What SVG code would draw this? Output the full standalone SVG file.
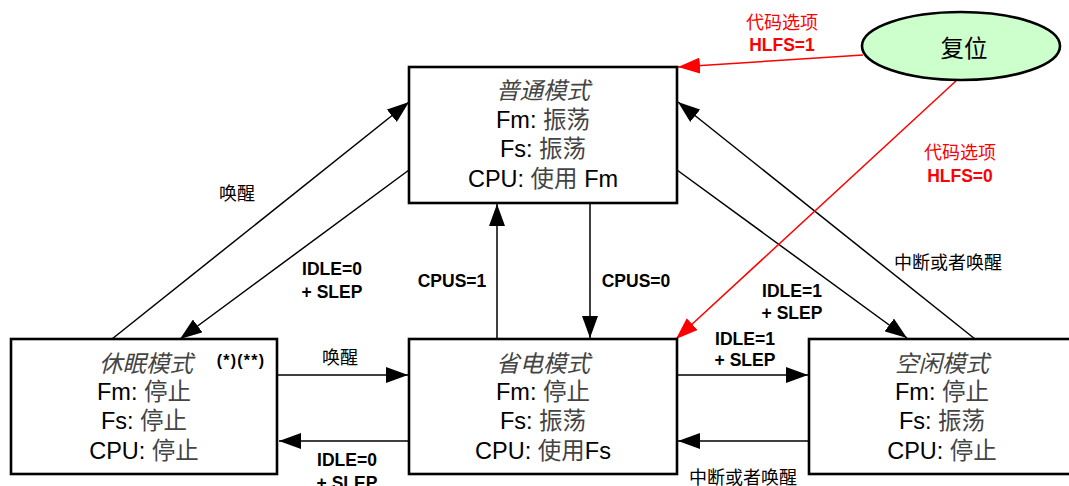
<svg xmlns="http://www.w3.org/2000/svg" width="1069" height="486" viewBox="0 0 1069 486">
<style>
.box{fill:#fff;stroke:#000;stroke-width:2.6}
.t{font-family:"Liberation Sans","Noto Sans CJK SC",sans-serif;font-size:23.5px;text-anchor:middle;fill:#000}
.ti{font-style:italic;fill:#444}
.cj{fill:#444}
.lb{font-family:"Liberation Sans","Noto Sans CJK SC",sans-serif;font-size:17.5px;font-weight:bold;text-anchor:middle;fill:#000}
.lc{font-family:"Liberation Sans","Noto Sans CJK SC",sans-serif;font-size:18px;text-anchor:middle;fill:#000}
.red{fill:#ff0000}
.c{stroke:#000;stroke-width:1.5;fill:none;marker-end:url(#ah)}
.cr{stroke:#ff0000;stroke-width:1.5;fill:none;marker-end:url(#ahr)}
</style>
<defs>
<marker id="ah" viewBox="0 0 22 16" refX="22" refY="8" markerWidth="22" markerHeight="16" orient="auto" markerUnits="userSpaceOnUse"><path d="M0,0 L22,8 L0,16 z" fill="#000"/></marker>
<marker id="ahr" viewBox="0 0 22 16" refX="22" refY="8" markerWidth="22" markerHeight="16" orient="auto" markerUnits="userSpaceOnUse"><path d="M0,0 L22,8 L0,16 z" fill="#ff0000"/></marker>
</defs>
<rect width="1069" height="486" fill="#fff"/>
<g id="connectors">
<line class="c" x1="112" y1="339" x2="409" y2="102"/>
<line class="c" x1="409" y1="170" x2="180" y2="339"/>
<line class="c" x1="497" y1="339" x2="497" y2="204"/>
<line class="c" x1="590" y1="203" x2="590" y2="338"/>
<line class="c" x1="677" y1="170" x2="907" y2="338"/>
<line class="c" x1="975" y1="339" x2="678" y2="102"/>
<line class="c" x1="278" y1="375" x2="408" y2="375"/>
<line class="c" x1="409" y1="441" x2="279" y2="441"/>
<line class="c" x1="677" y1="375" x2="808" y2="375"/>
<line class="c" x1="809" y1="441" x2="678" y2="441"/>
<line class="cr" x1="863" y1="55" x2="678" y2="67"/>
<line class="cr" x1="957" y1="80" x2="676" y2="339"/>
<text class="lc" x="237" y="200">唤醒</text>
<text class="lb" x="332" y="275">IDLE=0</text>
<text class="lb" x="332" y="298">+ SLEP</text>
<text class="lb" x="452" y="287">CPUS=1</text>
<text class="lb" x="636" y="287">CPUS=0</text>
<text class="lb" x="792" y="297">IDLE=1</text>
<text class="lb" x="792" y="319">+ SLEP</text>
<text class="lc" x="948" y="269">中断或者唤醒</text>
<text class="lc" x="340" y="364">唤醒</text>
<text class="lb" x="347" y="466">IDLE=0</text>
<text class="lb" x="347" y="489">+ SLEP</text>
<text class="lb" x="745" y="345">IDLE=1</text>
<text class="lb" x="745" y="366">+ SLEP</text>
<text class="lc" x="743" y="484">中断或者唤醒</text>
<text class="lc red" x="782" y="29">代码选项</text>
<text class="lb red" x="782" y="51">HLFS=1</text>
<text class="lc red" x="960" y="159">代码选项</text>
<text class="lb red" x="960" y="182">HLFS=0</text>
</g>
<g id="reset">
<ellipse cx="961" cy="46" rx="99" ry="34" fill="#ccffcc" stroke="#000" stroke-width="2.6"/>
<text class="t" x="964" y="57">复位</text>
</g>
<g id="normal">
<rect class="box" x="409" y="67" width="268" height="136"/>
<text class="t ti" x="543" y="99">普通模式</text>
<text class="t" x="543" y="128">Fm: <tspan class="cj">振荡</tspan></text>
<text class="t" x="543" y="157">Fs: <tspan class="cj">振荡</tspan></text>
<text class="t" x="543" y="187">CPU: <tspan class="cj">使用</tspan> Fm</text>
</g>
<g id="sleep">
<rect class="box" x="11" y="339" width="266" height="135"/>
<text class="t ti" x="146" y="372">休眠模式</text>
<text class="lb" x="241" y="366" style="font-size:16px;letter-spacing:1.2px">(*)(**)</text>
<text class="t" x="144" y="400">Fm: <tspan class="cj">停止</tspan></text>
<text class="t" x="144" y="429">Fs: <tspan class="cj">停止</tspan></text>
<text class="t" x="144" y="459">CPU: <tspan class="cj">停止</tspan></text>
</g>
<g id="powersave">
<rect class="box" x="409" y="339" width="268" height="135"/>
<text class="t ti" x="543" y="372">省电模式</text>
<text class="t" x="543" y="400">Fm: <tspan class="cj">停止</tspan></text>
<text class="t" x="543" y="429">Fs: <tspan class="cj">振荡</tspan></text>
<text class="t" x="543" y="459">CPU: <tspan class="cj">使用</tspan>Fs</text>
</g>
<g id="idle">
<rect class="box" x="809" y="339" width="266" height="135"/>
<text class="t ti" x="942" y="372">空闲模式</text>
<text class="t" x="942" y="400">Fm: <tspan class="cj">停止</tspan></text>
<text class="t" x="942" y="429">Fs: <tspan class="cj">振荡</tspan></text>
<text class="t" x="942" y="459">CPU: <tspan class="cj">停止</tspan></text>
</g>
</svg>
